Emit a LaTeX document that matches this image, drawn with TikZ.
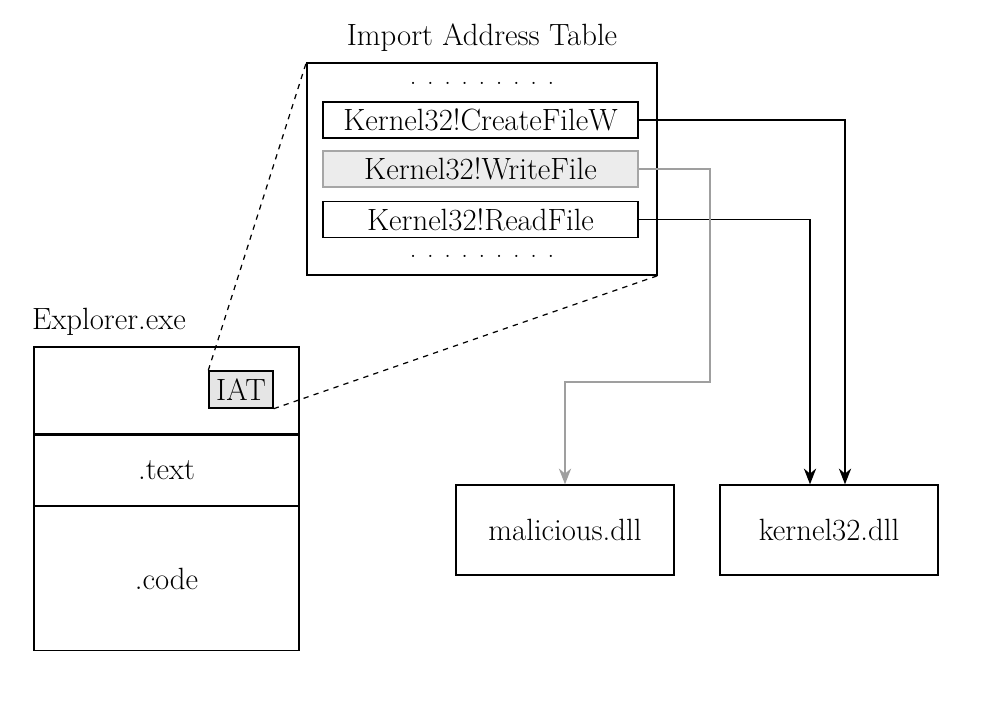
\documentclass[tikz,border=0pt]{standalone}
\usepackage{tikz}
\usetikzlibrary{arrows.meta,positioning,calc}

\begin{document}
\begin{tikzpicture}[x=0.02cm,y=-0.02cm,font=\fontsize{17.5}{20}\selectfont]
	\tikzstyle{rect}=[draw, rectangle, line width=0.8pt, text centered, inner sep=0pt]
	\tikzstyle{entry}=[rect, minimum width=6.3cm, minimum height=0.72cm]
	\tikzstyle{hooked}=[entry, draw=gray!70, fill=gray!15]
	\tikzstyle{dll}=[rect, minimum width=4.36cm, minimum height=1.8cm]
	\tikzstyle{section}=[rect, minimum width=5.3cm]
	\tikzstyle{dots}=[inner sep=0pt, anchor=base, font=\fontsize{15}{15}\selectfont]
	\tikzstyle{link}=[-{Stealth[length=9pt,width=7pt]}, line width=0.8pt]

	\useasboundingbox (0,0) rectangle (988,714);

	% import address table
	\node[rect, minimum width=7cm, minimum height=4.24cm] (iat) at (482,169) {};
	\node (iatlabel) at (482,38) {Import Address Table};
	\node[dots] (dotstop) at (482,84) {. . . . . . . . .};
	\node[entry] (cf) at (480.5,120) {Kernel32!CreateFileW};
	\node[hooked] (wf) at (480.5,169) {Kernel32!WriteFile};
	\node[entry] (rf) at (480.5,219.5) {Kernel32!ReadFile};
	\node[dots] (dotsbot) at (482,257) {. . . . . . . . .};

	% explorer.exe image
	\node[section, minimum height=1.74cm] (hdr) at (166.5,390.5) {};
	\node[section, minimum height=1.4cm] (txt) [below=0pt of hdr] {.text};
	\node[section, minimum height=2.88cm] (code) [below=0pt of txt] {.code};
	\node[anchor=west] (exe) at (26,322) {Explorer.exe};
	\node[rect, fill=gray!20, minimum width=1.28cm, minimum height=0.74cm] (iatsmall) at (241,389.5) {IAT};

	% modules
	\node[dll] (mal) at (565,530) {malicious.dll};
	\node[dll] (k32) at (829,530) {kernel32.dll};

	\draw[dashed, line width=0.7pt] (iatsmall.north west) -- (iat.north west);
	\draw[dashed, line width=0.7pt] (iatsmall.south east) -- (iat.south east);

	\coordinate (bend) at (710,382);
	\draw[link] (cf.east) -| ($(k32.north)+(16,0)$);
	\draw[link] (rf.east) -| ($(k32.north)+(-19,0)$);
	\draw[link, draw=gray!75, -{Stealth[length=9pt,width=7pt,fill=gray!75]}] (wf.east) -| (bend) -| (mal.north);
\end{tikzpicture}
\end{document}
